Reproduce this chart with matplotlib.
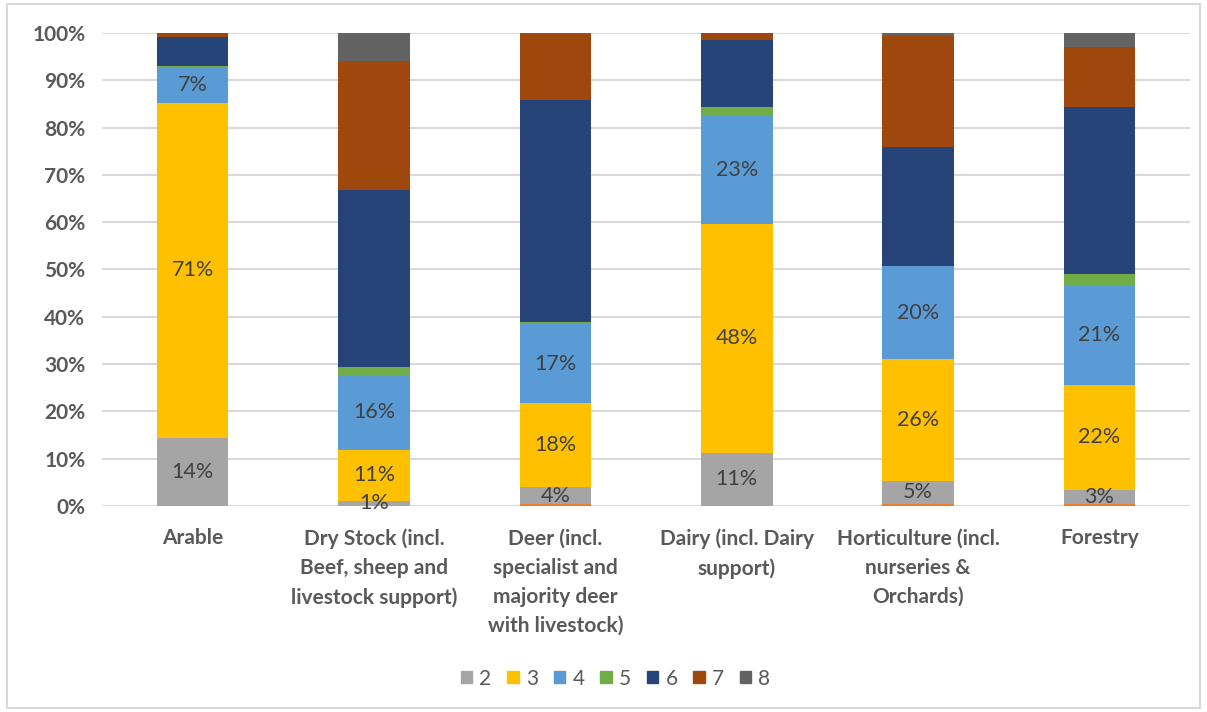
import matplotlib.pyplot as plt
from matplotlib.patches import Patch, Rectangle

plt.rcParams['font.family'] = ['Lato', 'DejaVu Sans']

categories = ["Arable",
              "Dry Stock (incl.\nBeef, sheep and\nlivestock support)",
              "Deer (incl.\nspecialist and\nmajority deer\nwith livestock)",
              "Dairy (incl. Dairy\nsupport)",
              "Horticulture (incl.\nnurseries &\nOrchards)",
              "Forestry"]

# share of farms (%) by class, one list per class
s1 = [0.0, 0.0, 0.4, 0.0, 0.5, 0.4]
s2 = [14.4, 1.1, 3.6, 11.3, 4.8, 3.0]
s3 = [70.8, 10.8, 17.8, 48.3, 25.8, 22.2]
s4 = [7.4, 15.8, 16.6, 22.9, 19.6, 20.9]
s5 = [0.5, 1.6, 0.6, 1.9, 0.0, 2.5]
s6 = [6.0, 37.6, 46.8, 14.1, 25.2, 35.4]
s7 = [0.9, 27.1, 14.0, 1.5, 23.5, 12.7]
s8 = [0.0, 6.0, 0.2, 0.0, 0.6, 2.9]

series = [("1", s1, "#ED7D31"), ("2", s2, "#A5A5A5"), ("3", s3, "#FFC000"),
          ("4", s4, "#5B9BD5"), ("5", s5, "#70AD47"), ("6", s6, "#264478"),
          ("7", s7, "#9E480E"), ("8", s8, "#636363")]
labelled = ["2", "3", "4"]

fig = plt.figure(figsize=(12.07, 7.12), dpi=100)
ax = fig.add_axes([0.0845, 0.2893, 0.9015, 0.6644])

x = range(len(categories))
bottom = [0.0] * len(categories)
handles = []
for name, vals, col in series:
    ax.bar(x, vals, 0.395, bottom=bottom, color=col, zorder=3)
    if name in labelled:
        for i, v in enumerate(vals):
            if name == "4" and v < 5 or v <= 0:
                continue
            ax.text(i, bottom[i] + v / 2, f"{v:.0f}%", ha="center", va="center",
                    fontsize=15.5, color="#404040", zorder=4)
    bottom = [b + v for b, v in zip(bottom, vals)]
    if name != "1":
        handles.append(Patch(color=col, label=name))

ax.set_xlim(-0.5, len(categories) - 0.5)
ax.set_ylim(0, 100)
ax.set_yticks(range(0, 101, 10))
ax.set_yticklabels([f"{t}%" for t in range(0, 101, 10)])
ax.set_xticks(list(x))
ax.set_xticklabels(categories, linespacing=1.58, va="top")
ax.tick_params(axis="both", length=0, labelsize=15, labelcolor="#595959")
ax.tick_params(axis="y", pad=12)
ax.tick_params(axis="x", pad=16)
for lab in ax.get_xticklabels() + ax.get_yticklabels():
    lab.set_fontweight("bold")
ax.grid(axis="y", color="#D9D9D9", linewidth=1.5, zorder=0)
for sp in ax.spines.values():
    sp.set_visible(False)

fig.legend(handles=handles, loc="center", bbox_to_anchor=(0.51, 0.047), ncol=7,
           frameon=False, fontsize=15, labelcolor="#595959", handlelength=0.55,
           handleheight=0.55, handletextpad=0.35, columnspacing=0.75)

fig.patches.append(Rectangle((0.006, 0.006), 0.988, 0.988, transform=fig.transFigure,
                             fill=False, edgecolor="#D9D9D9", linewidth=1.5))

fig.savefig("out.png", dpi=100)
